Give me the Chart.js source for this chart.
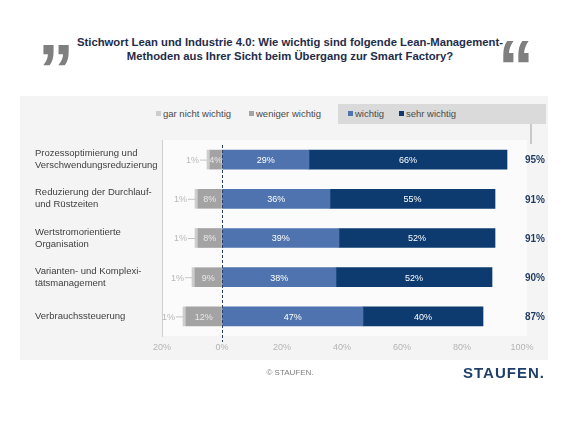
<!DOCTYPE html>
<html>
<head>
<meta charset="utf-8">
<script src="https://cdn.jsdelivr.net/npm/chart.js@4"></script>
<style>
  body { margin: 0; background: #fff; font-family: "Liberation Sans", Arial, sans-serif; }
  #wrap { position: relative; width: 580px; height: 435px; overflow: hidden; }
  #panel { position: absolute; left: 20px; top: 96px; width: 528px; height: 264px; background: #f4f4f4; }
  #band { position: absolute; left: 338px; top: 104px; width: 208px; height: 20px; background: #dadada; }
  #stem { position: absolute; left: 530px; top: 124px; width: 2px; height: 20px; background: #c9c9c9; }
  canvas { position: absolute; left: 0; top: 0; }
  .title { position: absolute; left: 0; width: 580px; text-align: center; font-weight: bold; font-size: 11.3px; color: #1f2d4a; }
  .quote { position: absolute; font-weight: bold; font-size: 72px; color: #7f7f7f; font-family: "Liberation Sans", Arial, sans-serif; line-height: 1; }
  .leg { position: absolute; top: 108px; font-size: 9.5px; color: #4a4a4a; white-space: nowrap; }
  .leg i { display: inline-block; width: 5px; height: 5px; margin-right: 2px; vertical-align: 1px; }
  #copy { position: absolute; left: 0; width: 580px; top: 368px; text-align: center; font-size: 8px; color: #808080; }
  #logo { position: absolute; left: 463px; top: 364px; font-size: 15px; font-weight: bold; color: #1f3f6b; letter-spacing: 1px; }
</style>
</head>
<body>
<div id="wrap">
  <div class="quote" style="left:38px; top:34px;">&#8221;</div>
  <div class="quote" style="left:498px; top:30px;">&#8220;</div>
  <div class="title" style="top:36px;">Stichwort Lean und Industrie 4.0: Wie wichtig sind folgende Lean-Management-</div>
  <div class="title" style="top:50px;">Methoden aus Ihrer Sicht beim Übergang zur Smart Factory?</div>
  <div id="panel"></div>
  <div id="band"></div>
  <div id="stem"></div>
  <div id="legend"></div>
  <canvas id="chart" width="580" height="435"></canvas>
  <div id="copy">© STAUFEN.</div>
  <div id="logo">STAUFEN.</div>
</div>
<script>
const categories = [
  ['Prozessoptimierung und', 'Verschwendungsreduzierung'],
  ['Reduzierung der Durchlauf-', 'und Rüstzeiten'],
  ['Wertstromorientierte', 'Organisation'],
  ['Varianten- und Komplexi-', 'tätsmanagement'],
  ['Verbrauchssteuerung']
];
const seriesNames = ['gar nicht wichtig', 'weniger wichtig', 'wichtig', 'sehr wichtig'];
const garNichtWichtig = [1, 1, 1, 1, 1];
const wenigerWichtig = [4, 8, 8, 9, 12];
const wichtig = [29, 36, 39, 38, 47];
const sehrWichtig = [66, 55, 52, 52, 40];
const totals = [95, 91, 91, 90, 87];
const xTicks = [-20, 0, 20, 40, 60, 80, 100];

const colors = {
  gar: '#cdcdcd',
  weniger: '#a3a3a3',
  wichtig: '#4e73ae',
  sehr: '#0d3b6f'
};

// HTML legend
const legendItems = [
  { name: seriesNames[0], color: colors.gar, x: 156 },
  { name: seriesNames[1], color: colors.weniger, x: 249 },
  { name: seriesNames[2], color: colors.wichtig, x: 348 },
  { name: seriesNames[3], color: colors.sehr, x: 399 }
];
const legendEl = document.getElementById('legend');
legendItems.forEach(it => {
  const d = document.createElement('div');
  d.className = 'leg';
  d.style.left = it.x + 'px';
  d.innerHTML = `<i style="background:${it.color}"></i>${it.name}`;
  legendEl.appendChild(d);
});

const labelPlugin = {
  id: 'labels',
  beforeDatasetsDraw(chart) {
    const { ctx, chartArea } = chart;
    ctx.save();
    ctx.fillStyle = '#fbfbfb';
    ctx.fillRect(chartArea.left + 1, chartArea.top, chartArea.right - chartArea.left + 4, chartArea.bottom - chartArea.top);
    ctx.restore();
  },
  afterDatasetsDraw(chart) {
    const { ctx, chartArea, scales } = chart;
    const x = scales.x, y = scales.y;
    ctx.save();
    ctx.font = '9px "Liberation Sans", Arial, sans-serif';
    ctx.textAlign = 'center';
    ctx.textBaseline = 'middle';
    // labels inside segments (weniger, wichtig, sehr wichtig)
    [0, 2, 3].forEach(di => {
      const meta = chart.getDatasetMeta(di);
      meta.data.forEach((bar, i) => {
        const v = chart.data.datasets[di].data[i];
        const cx = (bar.x + bar.base) / 2;
        ctx.fillStyle = di === 0 ? '#e8e8e8' : '#ffffff';
        ctx.fillText(Math.abs(v) + '%', cx, bar.y + 1);
      });
    });
    // outer labels for "gar nicht wichtig"
    const gm = chart.getDatasetMeta(1);
    gm.data.forEach((bar, i) => {
      const left = Math.min(bar.x, bar.base);
      ctx.strokeStyle = '#c4c4c4';
      ctx.lineWidth = 1;
      ctx.beginPath();
      ctx.moveTo(left - 7, bar.y + 0.5);
      ctx.lineTo(left, bar.y + 0.5);
      ctx.stroke();
      ctx.fillStyle = '#b8b8b8';
      ctx.textAlign = 'right';
      ctx.fillText(garNichtWichtig[i] + '%', left - 8, bar.y + 1);
    });
    // totals
    ctx.font = 'bold 10px "Liberation Sans", Arial, sans-serif';
    ctx.fillStyle = '#1f3a5f';
    ctx.textAlign = 'left';
    totals.forEach((t, i) => {
      ctx.fillText(t + '%', 525, y.getPixelForValue(i) + 1);
    });
    // dashed zero line
    const zx = Math.round(x.getPixelForValue(0)) + 0.5;
    ctx.strokeStyle = '#2b3f5e';
    ctx.setLineDash([3, 2]);
    ctx.beginPath();
    ctx.moveTo(zx, chartArea.top + 5);
    ctx.lineTo(zx, chartArea.bottom + 6);
    ctx.stroke();
    ctx.restore();
  }
};

new Chart(document.getElementById('chart'), {
  type: 'bar',
  data: {
    labels: categories,
    datasets: [
      // negative stack: first dataset sits next to zero
      { label: seriesNames[1], data: wenigerWichtig.map(v => -v), backgroundColor: colors.weniger },
      { label: seriesNames[0], data: garNichtWichtig.map(v => -v), backgroundColor: colors.gar },
      { label: seriesNames[2], data: wichtig, backgroundColor: colors.wichtig },
      { label: seriesNames[3], data: sehrWichtig, backgroundColor: colors.sehr }
    ]
  },
  options: {
    indexAxis: 'y',
    responsive: false,
    animation: false,
    barThickness: 19,
    layout: { padding: { left: 35, right: 58, top: 140, bottom: 79 } },
    plugins: { legend: { display: false }, tooltip: { enabled: false } },
    scales: {
      x: {
        stacked: true,
        min: -20,
        max: 100,
        afterBuildTicks(s) { s.ticks = xTicks.map(v => ({ value: v })); },
        afterFit(s) { s.height = 20; },
        ticks: {
          color: '#b4b4b4',
          font: { size: 9, family: '"Liberation Sans", Arial, sans-serif' },
          padding: 6,
          callback: v => Math.abs(v) + '%'
        },
        grid: { color: '#ececec', drawTicks: false },
        border: { display: false }
      },
      y: {
        stacked: true,
        afterFit(s) { s.width = 127; },
        ticks: {
          crossAlign: 'far',
          color: '#404040',
          font: { size: 9.5, family: '"Liberation Sans", Arial, sans-serif', lineHeight: 1.25 }
        },
        grid: { display: false },
        border: { display: true, color: '#cfcfcf' }
      }
    }
  },
  plugins: [labelPlugin]
});
</script>
</body>
</html>
